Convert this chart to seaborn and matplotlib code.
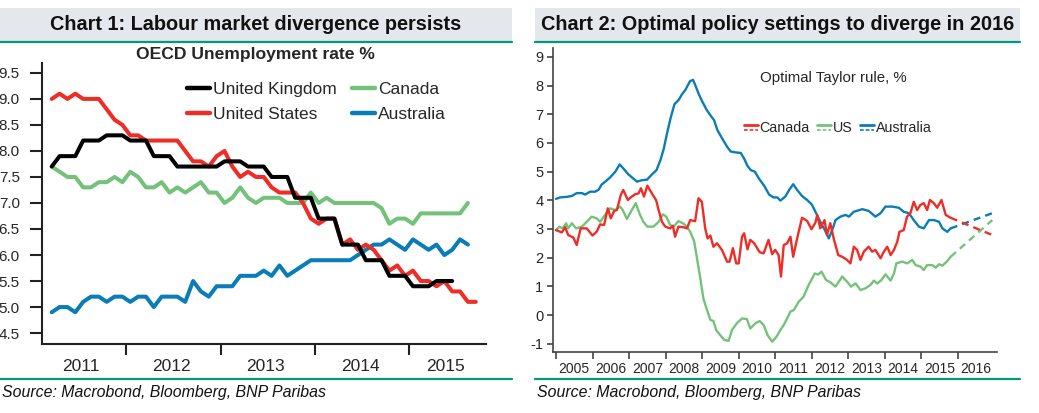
import numpy as np
import pandas as pd
import seaborn as sns
import matplotlib.pyplot as plt
from matplotlib.lines import Line2D
from matplotlib.patches import Rectangle
from matplotlib.legend_handler import HandlerBase

# ---- Chart 1: OECD unemployment rate %, monthly, first point = Mar 2011
uk = [7.7, 7.9, 7.9, 7.9, 8.2, 8.2, 8.2, 8.3, 8.3, 8.3,
      8.2, 8.2, 8.2, 7.9, 7.9, 7.9, 7.7, 7.7, 7.7, 7.7, 7.7, 7.7,
      7.8, 7.8, 7.8, 7.7, 7.7, 7.7, 7.5, 7.5, 7.5, 7.1, 7.1, 7.1,
      6.7, 6.7, 6.7, 6.2, 6.2, 6.2, 5.9, 5.9, 5.9, 5.6, 5.6, 5.6,
      5.4, 5.4, 5.4, 5.5, 5.5, 5.5]
us = [9.0, 9.1, 9.0, 9.1, 9.0, 9.0, 9.0, 8.8, 8.6, 8.5,
      8.3, 8.3, 8.2, 8.2, 8.2, 8.2, 8.2, 8.0, 7.8, 7.8, 7.7, 7.9,
      8.0, 7.7, 7.5, 7.6, 7.5, 7.5, 7.3, 7.2, 7.2, 7.2, 7.0, 6.7,
      6.6, 6.7, 6.7, 6.2, 6.3, 6.1, 6.2, 6.1, 5.9, 5.7, 5.8, 5.6,
      5.7, 5.5, 5.5, 5.4, 5.5, 5.3, 5.3, 5.1, 5.1]
canada = [7.7, 7.6, 7.5, 7.5, 7.3, 7.3, 7.4, 7.4, 7.5, 7.4,
          7.6, 7.5, 7.3, 7.3, 7.4, 7.2, 7.3, 7.2, 7.3, 7.4, 7.2, 7.2,
          7.0, 7.1, 7.3, 7.1, 7.0, 7.1, 7.1, 7.1, 7.0, 7.0, 7.0, 7.2,
          7.0, 7.1, 7.0, 7.0, 7.0, 7.0, 7.0, 7.0, 6.9, 6.6, 6.7, 6.7,
          6.6, 6.8, 6.8, 6.8, 6.8, 6.8, 6.8, 7.0]
australia = [4.9, 5.0, 5.0, 4.9, 5.1, 5.2, 5.2, 5.1, 5.2, 5.2,
             5.1, 5.2, 5.2, 5.0, 5.2, 5.2, 5.2, 5.1, 5.5, 5.3, 5.2, 5.4,
             5.4, 5.4, 5.6, 5.6, 5.6, 5.7, 5.6, 5.8, 5.6, 5.7, 5.8, 5.9,
             5.9, 5.9, 5.9, 5.9, 5.9, 6.0, 6.1, 6.2, 6.2, 6.3, 6.2, 6.1,
             6.3, 6.2, 6.1, 6.2, 6.0, 6.1, 6.3, 6.2]
year_labels_1 = ["2011", "2012", "2013", "2014", "2015"]

# ---- Chart 2: optimal Taylor rule %, x = months since Jan 2005
aus_m = [0, 1.3, 3.5, 5.2, 6.8, 8.5, 9.6, 11.2, 12.9, 14, 15, 16.2, 17.8, 19.5, 20.9,
         22.2, 23.8, 25.5, 26.6, 28.2, 29.9, 31.5, 33, 34.3, 35.4, 36.5, 37.6, 38.9,
         40.3, 41.4, 42.5, 44, 45, 45.8, 46.9, 48, 49.5, 50.8, 51.9, 53, 54.6, 56.3,
         57.4, 59, 60.7, 61.8, 62.9, 64, 65.3, 66.7, 68.4, 70, 71.4, 72.7, 73.7, 75.3,
         76.7, 77.9, 79.2, 80.8, 82.5, 84.1, 85.2, 86.8, 88.3, 89.6, 90.9, 91.8, 93.4,
         95.1, 96.2, 97.8, 100.6, 102.7, 104.9, 106.6, 108.2, 110.4, 112.6, 114.2,
         115.9, 117.5, 119.2, 120.8, 122.5, 124.1, 125.8, 126.9, 128.5, 129.6]
aus_v = [4.05, 4.1, 4.12, 4.15, 4.25, 4.25, 4.2, 4.3, 4.3, 4.37, 4.55, 4.65, 4.8, 5.0, 5.25,
         5.1, 4.9, 4.75, 4.65, 4.7, 4.72, 4.9, 5.05, 5.4, 5.8, 6.35, 6.85, 7.35,
         7.5, 7.7, 7.85, 8.15, 8.2, 8.0, 7.7, 7.45, 7.15, 6.95, 6.8, 6.45, 6.15, 5.85,
         5.7, 5.67, 5.65, 5.45, 5.2, 5.05, 5.0, 4.75, 4.5, 4.2, 4.1, 4.1, 3.99, 4.13,
         4.38, 4.56, 4.36, 4.15, 4.01, 3.84, 3.6, 3.25, 2.96, 2.67, 3.02, 3.31, 3.43,
         3.49, 3.43, 3.6, 3.69, 3.63, 3.43, 3.55, 3.78, 3.78, 3.74, 3.6,
         3.55, 3.31, 3.08, 3.02, 3.31, 3.31, 3.25, 3.02, 2.9, 3.02]
can_m = [0, 1.9, 3, 4, 5.7, 6.8, 8.1, 10.1, 12, 13.4, 14.5, 15.8, 17, 18, 19.1, 20, 21.3,
         22.1, 23.6, 24.9, 26, 27.1, 27.9, 28.9, 30, 31.5, 32.9, 33.7, 34.8, 35.9, 37.5,
         38.4, 39.1, 40.2, 41.9, 43, 44.1, 45.7, 46.8, 47.9, 49, 49.8, 50.7, 51.7, 52.9,
         54.5, 56.2, 57, 58.1, 59.2, 60, 61.1, 61.8, 62.9, 63.8, 65.1, 66.9, 68.2, 69.8,
         71, 72, 73.1, 73.9, 74.8, 75.9, 77, 77.9, 79.2, 80.8, 82.5, 83.9, 85.2, 85.8,
         86.8, 88.2, 89, 90.1, 91.2, 92.7, 94, 95.6, 96.7, 97.8, 98.9, 100, 101.1, 102.7,
         103.8, 104.9, 106.6, 107.7, 108.8, 109.9, 111, 112.1, 112.8, 114.2, 115.3, 116.4,
         117.5, 118.6, 119.7, 120.8, 121.9, 122.8, 124.1, 125.2, 126.6, 128, 129.6]
can_v = [2.96, 2.88, 3.06, 2.79, 2.7, 2.44, 3.02, 3.02, 2.77, 2.91, 3.16, 3.14, 3.72, 3.37,
         3.63, 3.66, 4.19, 4.36, 4.01, 4.13, 4.21, 4.24, 4.42, 4.13, 4.51, 4.24, 4.0, 3.66,
         3.25, 3.08, 3.02, 3.11, 2.73, 3.08, 3.06, 3.02, 3.31, 3.27, 4.07, 3.95, 3.02, 2.67,
         2.77, 2.38, 2.5, 2.27, 1.86, 1.86, 2.33, 1.8, 1.8, 2.73, 2.85, 2.29, 2.62, 2.5,
         2.19, 2.15, 2.62, 2.12, 2.27, 2.09, 1.34, 2.44, 2.5, 2.73, 2.03, 2.67, 3.39, 3.28,
         2.99, 3.22, 3.49, 3.02, 3.31, 2.79, 3.2, 2.67, 2.09, 2.03, 1.92, 1.8, 2.38, 2.27,
         1.92, 2.21, 2.38, 2.21, 2.27, 1.98, 2.21, 2.38, 2.09, 2.27, 2.56, 2.9, 2.96, 3.43,
         3.55, 3.95, 3.66, 3.84, 3.9, 3.66, 4.01, 3.9, 3.74, 4.01, 3.49, 3.39]
us_m = [0, 1.1, 2.2, 3.3, 4, 5.2, 6.6, 8.5, 10.1, 11.7, 13.4, 14.5, 16.1, 17.8, 19.4, 21.1,
        21.9, 23.3, 24.9, 26.2, 27.6, 28.7, 30, 32, 33.7, 35.1, 36.2, 37.5, 38.6, 40.2,
        41.7, 43, 44.1, 45.4, 46.3, 47.4, 48.4, 49.6, 50.7, 51.7, 52.6, 53.9, 55.3, 56.7,
        57.8, 59.4, 61.1, 62.7, 63.8, 65.5, 66.9, 68.2, 69.5, 71, 72.4, 73.7, 74.8, 75.9,
        77, 78.1, 79.7, 81.3, 83, 85, 86.1, 87.2, 88.7, 90.1, 91.8, 94, 95.6, 96.9, 98.4,
        100, 101.6, 103.3, 104.4, 105.5, 106.9, 108.2, 109.9, 111, 111.8, 113.7, 115.4,
        117, 118.1, 119.7, 120.8, 121.9, 123.6, 124.7, 125.8, 126.9, 128.5, 129.6]
us_v = [2.96, 3.08, 3.02, 3.2, 3.02, 3.2, 3.02, 3.08, 3.25, 3.43, 3.37, 3.25, 3.49, 3.72,
        3.66, 3.78, 3.66, 3.35, 3.66, 3.9, 3.49, 3.25, 3.08, 3.08, 3.25, 3.51, 3.43, 3.14,
        3.08, 3.27, 3.2, 3.08, 2.9, 2.56, 1.98, 1.28, 0.58, 0.17, -0.17, -0.21, -0.52,
        -0.7, -0.87, -0.9, -0.52, -0.29, -0.12, -0.14, -0.47, -0.29, -0.21, -0.35, -0.7,
        -0.93, -0.76, -0.52, -0.35, -0.12, 0.12, 0.17, 0.46, 0.64, 1.05, 1.45, 1.41, 1.51,
        1.22, 1.14, 0.99, 1.34, 1.16, 0.99, 1.1, 0.87, 0.93, 1.05, 1.2, 1.1, 1.22, 1.42,
        1.2, 1.45, 1.8, 1.86, 1.8, 1.92, 1.74, 1.69, 1.57, 1.74, 1.74, 1.65, 1.77, 1.72,
        1.88, 2.03]
# forecasts (dashed): from last actual to end-2016
fc_m = [129.6, 143.3]
can_fc = [3.39, 2.79]
us_fc = [2.03, 3.31]
aus_fc = [3.02, 3.55]
year_labels_2 = [str(y) for y in range(2005, 2017)]

RED, GREEN, BLUE = "#ee2d26", "#74c27a", "#0a7db6"
TEAL, BANNER = "#009a7d", "#e4e7eb"

sns.set_style("ticks")
plt.rcParams["font.family"] = ["Liberation Sans", "DejaVu Sans"]
plt.rcParams["axes.unicode_minus"] = False
NARROW = ["Liberation Sans Narrow", "Liberation Sans", "DejaVu Sans"]

fig = plt.figure(figsize=(10.39, 4.13), dpi=100)
W, H = 1039, 413


def fx(px):
    return px / W


def fy(py):
    return 1 - py / H


# banners, rules, titles, sources
for x0, x1, title in [(0, 512, "Chart 1: Labour market divergence persists"),
                      (535, 1020, "Chart 2: Optimal policy settings to diverge in 2016")]:
    fig.patches.append(Rectangle((fx(x0), fy(42)), fx(x1 - x0), 34 / H, transform=fig.transFigure,
                                 facecolor=BANNER, edgecolor="none", zorder=0))
    for yy in (42, 379):
        fig.lines.append(Line2D([fx(x0), fx(x1)], [fy(yy)] * 2, transform=fig.transFigure,
                                color=TEAL, lw=1.6))
    fig.text(fx((x0 + x1) / 2), fy(25), title, ha="center", va="center",
             fontsize=14.3, fontweight="bold", color="#111111")
    fig.text(fx(x0 + 2), fy(392), "Source: Macrobond, Bloomberg, BNP Paribas",
             ha="left", va="center", fontsize=11.4, style="italic", color="#111111")

# ---------------- Chart 1 ----------------
ax1 = fig.add_axes([fx(42), fy(344), fx(444), 281 / H])
rows = []
for name, vals in [("Australia", australia), ("Canada", canada),
                   ("United States", us), ("United Kingdom", uk)]:
    for k, v in enumerate(vals):
        rows.append((name, 2011 + (2.5 + k) / 12, v))
df1 = pd.DataFrame(rows, columns=["country", "year", "rate"])
pal1 = {"United Kingdom": "black", "United States": RED, "Canada": GREEN, "Australia": BLUE}
sns.lineplot(data=df1, x="year", y="rate", hue="country",
             hue_order=["Australia", "Canada", "United States", "United Kingdom"],
             palette=pal1, estimator=None, lw=2.9, legend=False, ax=ax1)
ax1.set_xlim(2011.105, 2015.817)
ax1.set_ylim(4.29, 9.69)
ax1.set_xlabel("")
ax1.set_ylabel("")
ax1.set_yticks(np.arange(4.5, 9.51, 0.5))
ax1.set_yticklabels([f"{t:.1f}" for t in np.arange(4.5, 9.51, 0.5)])
ax1.set_xticks([2012, 2013, 2014, 2015])
ax1.set_xticklabels([])
ax1.set_xticks([2011.52, 2012.48, 2013.48, 2014.48, 2015.39], minor=True)
ax1.set_xticklabels(year_labels_1, minor=True)
ax1.tick_params(axis="y", length=9, width=1.5, pad=7, labelsize=11, color="#222222")
ax1.tick_params(axis="x", which="major", length=8, width=1.5, color="#222222")
ax1.tick_params(axis="x", which="minor", length=0, pad=11, labelsize=12.5)
for s in ["top", "right"]:
    ax1.spines[s].set_visible(False)
for s in ["left", "bottom"]:
    ax1.spines[s].set_linewidth(1.5)
    ax1.spines[s].set_color("#222222")

fig.text(fx(255), fy(54), "OECD Unemployment rate %", ha="center", va="center",
         fontsize=12.6, fontweight="bold")
h1 = [Line2D([], [], color=pal1[n], lw=3.2) for n in
      ["United Kingdom", "United States", "Canada", "Australia"]]
fig.legend(h1, ["United Kingdom", "United States", "Canada", "Australia"], ncol=2,
           loc="upper left", bbox_to_anchor=(fx(187), fy(82)), frameon=False,
           fontsize=12.5, handlelength=1.3, handletextpad=0.2, columnspacing=0.9,
           labelspacing=0.55, borderpad=0, borderaxespad=0)

# ---------------- Chart 2 ----------------
ax2 = fig.add_axes([fx(553), fy(352), fx(444), 304 / H])
rows = []
for name, ms, vs in [("US", us_m, us_v), ("Australia", aus_m, aus_v), ("Canada", can_m, can_v)]:
    for m, v in zip(ms, vs):
        rows.append((name, 2005 + m / 12, v))
df2 = pd.DataFrame(rows, columns=["series", "year", "rate"])
pal2 = {"Canada": RED, "US": GREEN, "Australia": BLUE}
sns.lineplot(data=df2, x="year", y="rate", hue="series", hue_order=["US", "Australia", "Canada"],
             palette=pal2, estimator=None, lw=1.7, legend=False, ax=ax2)
for name, fc in [("US", us_fc), ("Australia", aus_fc), ("Canada", can_fc)]:
    sns.lineplot(x=[2005 + m / 12 for m in fc_m], y=fc, color=pal2[name], lw=1.7,
                 linestyle=(0, (3, 2.2)), ax=ax2)
ax2.set_xlim(2004.918, 2017.07)
ax2.set_ylim(-1.29, 9.31)
ax2.set_xlabel("")
ax2.set_ylabel("")
ax2.set_yticks(range(-1, 10))
ax2.set_yticklabels([str(t) for t in range(-1, 10)], family=NARROW)
ax2.set_xticks(range(2005, 2017))
ax2.set_xticklabels([])
ax2.set_xticks([y + 0.5 for y in range(2005, 2017)], minor=True)
ax2.set_xticklabels(year_labels_2, minor=True, family=NARROW)
ax2.tick_params(axis="y", length=4, width=1.2, pad=3, labelsize=10.5, color="#444444")
ax2.tick_params(axis="x", which="major", length=5, width=1.2, color="#444444")
ax2.tick_params(axis="x", which="minor", length=0, pad=7, labelsize=10)
for s in ["top", "right"]:
    ax2.spines[s].set_visible(False)
for s in ["left", "bottom"]:
    ax2.spines[s].set_linewidth(1.2)
    ax2.spines[s].set_color("#444444")

fig.text(fx(833), fy(78), "Optimal Taylor rule, %", ha="center", va="center",
         fontsize=10.8, family=NARROW)


class SolidOverDash(HandlerBase):
    def create_artists(self, legend, orig_handle, xdescent, ydescent, width, height,
                       fontsize, trans):
        c = orig_handle.get_color()
        xs = [-xdescent, -xdescent + width]
        top = Line2D(xs, [height * 0.7 - ydescent] * 2, color=c, lw=2.0, transform=trans)
        low = Line2D(xs, [height * 0.22 - ydescent] * 2, color=c, lw=1.2,
                     linestyle=(0, (2.2, 1.2)), transform=trans)
        return [top, low]


h2 = [Line2D([], [], color=pal2[n]) for n in ["Canada", "US", "Australia"]]
leg2 = fig.legend(h2, ["Canada", "US", "Australia"], ncol=3, loc="center left",
                  bbox_to_anchor=(fx(744), fy(128)), frameon=False,
                  handlelength=1.0, handletextpad=0.1, columnspacing=0.5,
                  borderpad=0, borderaxespad=0, handler_map={Line2D: SolidOverDash()},
                  prop={"family": NARROW, "size": 10.3})

fig.savefig("out.png", dpi=100)
